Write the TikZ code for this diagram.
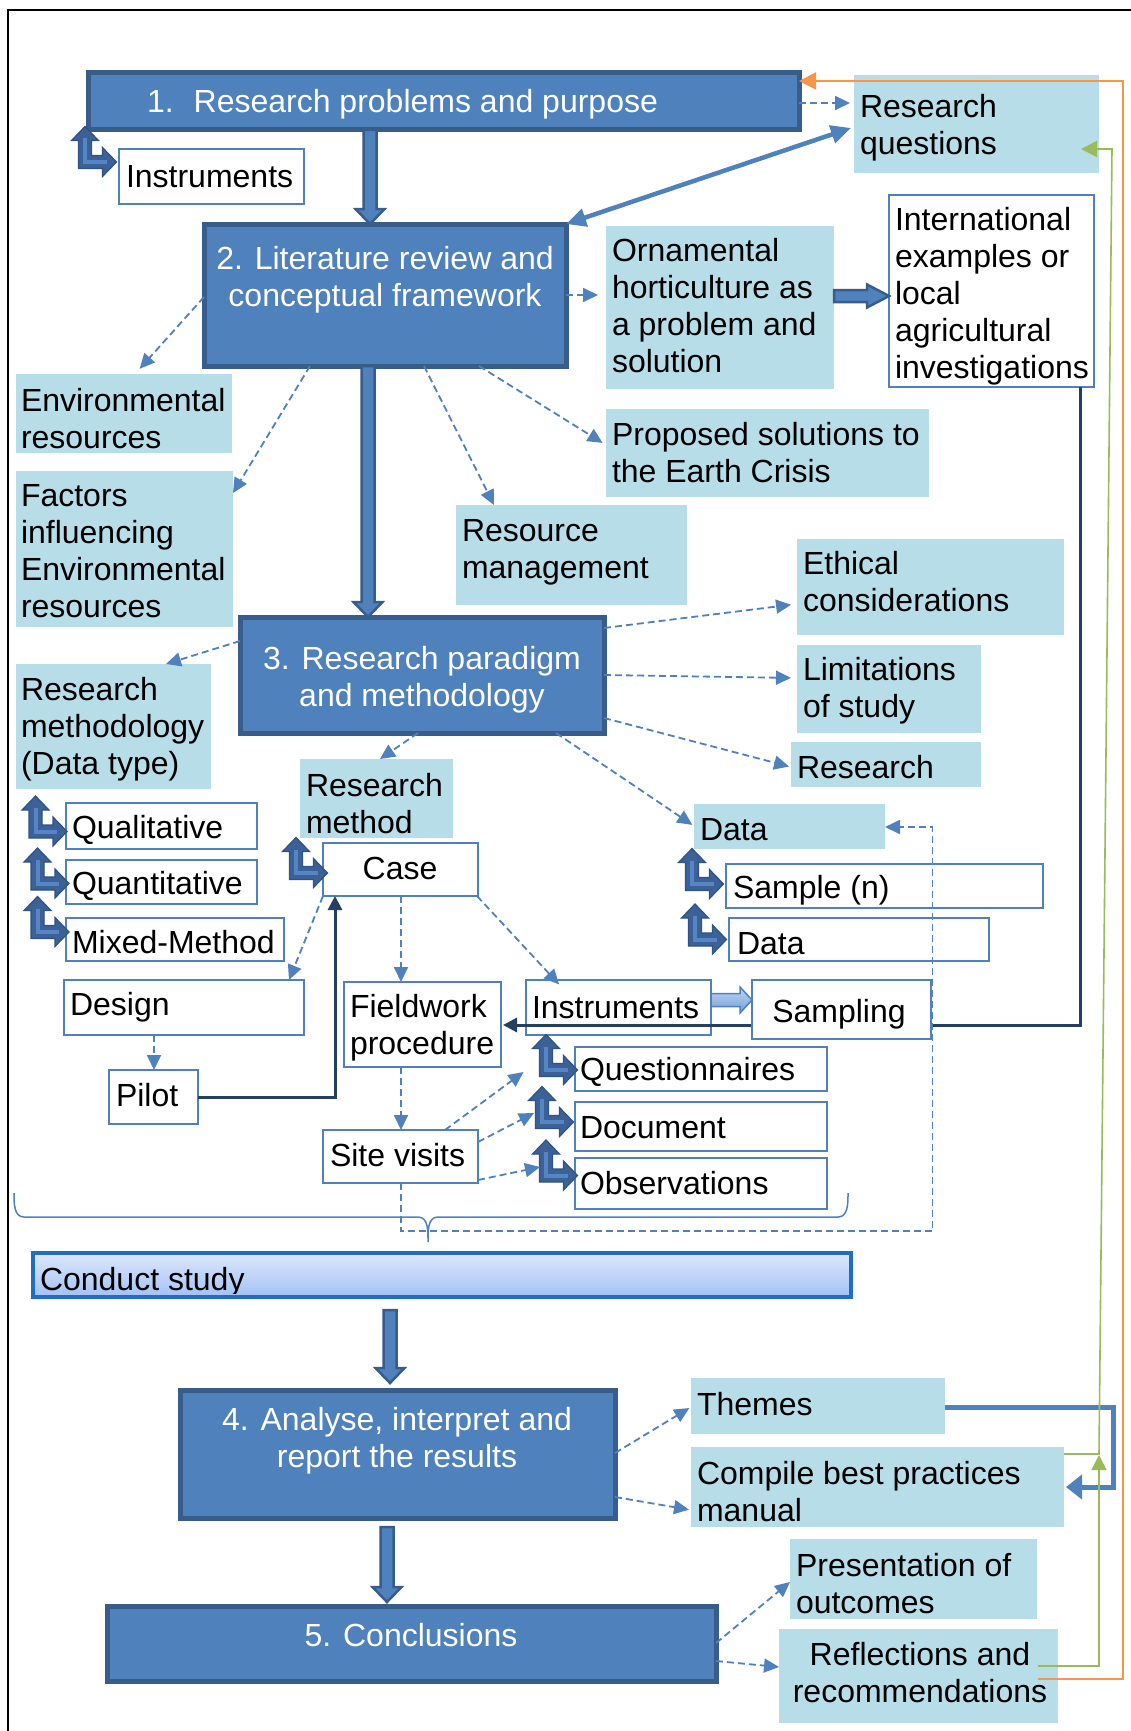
\documentclass[tikz,border=0pt]{standalone}
\usepackage{fontspec}
\setmainfont{Liberation Sans}
\usetikzlibrary{arrows.meta,calc}

\definecolor{dkfill}{HTML}{4F81BD}
\definecolor{dkedge}{HTML}{385D8A}
\definecolor{ltfill}{HTML}{B7DDE8}
\definecolor{lineNavy}{HTML}{243F60}
\definecolor{grn}{HTML}{9BBB59}
\definecolor{org}{HTML}{F79646}
\definecolor{csTop}{HTML}{DDE8FC}
\definecolor{csBot}{HTML}{A3C1F5}
\definecolor{csEdge}{HTML}{1F6EC2}
\definecolor{lbTop}{HTML}{C2D6F2}
\definecolor{lbBot}{HTML}{6F9FD8}
\definecolor{bentDark}{HTML}{3B6197}
\definecolor{bentEdge}{HTML}{2F5384}
\definecolor{bentStripe}{HTML}{5585C4}

\newcommand\bodyfs{\fontsize{32pt}{37pt}\selectfont}
\newcommand\sx{\rule[-5pt]{0pt}{33pt}}

% box from its top-left and bottom-right corners
\newcommand\boxnode[6]{\node[#2, anchor=north west, inner sep=0pt, outer sep=0pt,
  minimum width={#5-#3}, minimum height={#6-#4}] (#1) at (#3,#4) {};}

% thick downward block arrow between two points on one vertical
\newcommand\downblock[2]{\path[blk] let \p1=#1, \p2=#2 in
  (\x1-6.5pt,\y1) -- (\x1+6.5pt,\y1) -- (\x1+6.5pt,\y2+15pt) -- (\x1+14.5pt,\y2+15pt)
  -- (\x1,\y2) -- (\x1-14.5pt,\y2+15pt) -- (\x1-6.5pt,\y2+15pt) -- cycle;}

% rightward block arrow: style, start, end, shaft half-height, head half-height, head length
\newcommand\rightblock[6]{\path[#1] let \p1=#2, \p2=#3 in
  (\x1,\y1+#4pt) -- (\x2-#6pt,\y1+#4pt) -- (\x2-#6pt,\y1+#5pt) -- (\x2,\y1)
  -- (\x2-#6pt,\y1-#5pt) -- (\x2-#6pt,\y1-#4pt) -- (\x1,\y1-#4pt) -- cycle;}

\tikzset{
  dbox/.style={fill=dkfill, draw=dkedge, line width=5pt},
  lbox/.style={fill=ltfill},
  wbox/.style={fill=white, draw=dkfill, line width=2.5pt},
  csbox/.style={top color=csTop, bottom color=csBot, draw=csEdge, line width=4pt},
  txt/.style={inner sep=0pt, outer sep=0pt, font=\bodyfs, align=left, anchor=west},
  wtxt/.style={txt, text=white, align=center, anchor=center},
  dsh/.style={draw=dkfill, line width=1.8pt, dash pattern=on 7pt off 4pt,
    -{Triangle[length=15pt,width=14pt]}},
  blk/.style={fill=dkfill, draw=dkedge, line width=2.5pt, line join=miter},
  lblk/.style={top color=lbTop, bottom color=lbBot, draw=dkfill, line width=1.5pt},
  navyline/.style={draw=lineNavy, line width=3pt, -{Triangle[length=14pt,width=14pt]}},
  bent/.pic={
    \path[fill=bentDark, draw=bentEdge, line width=1.2pt, line join=miter]
      (0,0) -- (24,0) -- (24,8) -- (38,-6.5) -- (24,-21) -- (24,-13) -- (13,-13)
      -- (13,-28) -- (20,-28) -- (6.5,-42) -- (-7,-28) -- (0,-28) -- cycle;
    \draw[bentStripe, line width=4pt] (6.5,-30) -- (6.5,-6.5) -- (28,-6.5);},
}

\begin{document}
\begin{tikzpicture}[x=1pt,y=-1pt]
\useasboundingbox (0,0) rectangle (1131,1731);
\fill[white] (0,0) rectangle (1131,1731);

% page frame
\draw[line width=2.5pt] (1131,10) -- (8,10) -- (8,1731);

% ---------- boxes ----------
\boxnode{b1}{dbox}{88}{73}{799}{130}
\boxnode{ins0}{wbox}{119}{149}{304}{204}
\boxnode{rq}{lbox}{854}{75}{1099}{173}
\boxnode{b2}{dbox}{204}{224}{566}{366}
\boxnode{orn}{lbox}{606}{226}{834}{389}
\boxnode{intl}{wbox}{889}{195}{1094}{387}
\boxnode{env}{lbox}{16}{374}{232}{453}
\boxnode{fac}{lbox}{16}{471}{233}{627}
\boxnode{prop}{lbox}{606}{409}{929}{497}
\boxnode{resm}{lbox}{456}{505}{687}{605}
\boxnode{b3}{dbox}{240}{617}{604}{733}
\boxnode{eth}{lbox}{797}{539}{1064}{635}
\boxnode{lim}{lbox}{797}{645}{981}{733}
\boxnode{res}{lbox}{791}{742}{981}{787}
\boxnode{dl}{lbox}{694}{804}{885}{849}
\boxnode{rmd}{lbox}{16}{664}{211}{789}
\boxnode{rme}{lbox}{300}{759}{453}{838}
\boxnode{ql}{wbox}{66}{803}{257}{849}
\boxnode{qn}{wbox}{66}{860}{257}{904}
\boxnode{mx}{wbox}{66}{918}{284}{961}
\boxnode{case}{wbox}{323}{843}{478}{896}
\boxnode{des}{wbox}{64}{980}{304}{1035}
\boxnode{pil}{wbox}{109}{1070}{198}{1124}
\boxnode{fw}{wbox}{344}{982}{501}{1067}
\boxnode{ins2}{wbox}{526}{980}{711}{1035}
\boxnode{sn}{wbox}{726}{864}{1043}{908}
\boxnode{d2}{wbox}{729}{918}{989}{961}
\boxnode{qs}{wbox}{575}{1047}{827}{1091}
\boxnode{doc}{wbox}{575}{1102}{827}{1151}
\boxnode{obs}{wbox}{575}{1158}{827}{1209}
\boxnode{sv}{wbox}{323}{1130}{478}{1183}
\boxnode{cs}{csbox}{33}{1253}{851}{1297}
\boxnode{b4}{dbox}{180}{1390}{615}{1518}
\boxnode{b5}{dbox}{107}{1606}{716}{1681}
\boxnode{th}{lbox}{691}{1378}{945}{1434}
\boxnode{comp}{lbox}{691}{1447}{1064}{1527}
\boxnode{pres}{lbox}{790}{1539}{1037}{1619}
\boxnode{refl}{lbox}{779}{1629}{1058}{1723}

% link from the international examples back to the fieldwork procedure
\draw[navyline] (intl.south -| 1080,0) |- ([xshift=2pt]fw.east |- 0,1025);
\boxnode{samp}{wbox}{752}{980}{931}{1039}

% ---------- texts ----------
\node[wtxt, anchor=west] (t1) at (147,102) {\sx 1.\hspace{20pt}Research problems and purpose};
\node[txt] (tins0) at (126,176) {\sx Instruments};
\node[txt] (trq) at (860,125) {\sx Research\\\sx questions};
\node[wtxt] (t2) at (385,277.5) {\sx 2. Literature review and\\\sx conceptual framework};
\node[txt] (torn) at (612,305.5) {\sx Ornamental\\\sx horticulture as\\\sx a problem and\\\sx solution};
\node[txt] (tintl) at (895,293.5) {\sx International\\\sx examples or\\\sx local\\\sx agricultural\\\sx investigations};
\node[txt] (tenv) at (21,418.5) {\sx Environmental\\\sx resources};
\node[txt] (tfac) at (21,550.5) {\sx Factors\\\sx influencing\\\sx Environmental\\\sx resources};
\node[txt] (tprop) at (612,452.5) {\sx Proposed solutions to\\\sx the Earth Crisis};
\node[txt] (tresm) at (462,549.5) {\sx Resource\\\sx management};
\node[wtxt] (t3) at (422,677.5) {\sx 3. Research paradigm\\\sx and methodology};
\node[txt] (teth) at (803,581.5) {\sx Ethical\\\sx considerations};
\node[txt] (tlim) at (803,688.5) {\sx Limitations\\\sx of study};
\node[txt] (tres) at (797,767) {\sx Research};
\node[txt] (tdl) at (700,829) {\sx Data};
\node[txt] (trmd) at (21,726.5) {\sx Research\\\sx methodology\\\sx (Data type)};
\node[txt] (trme) at (306,803) {\sx Research\\\sx method};
\node[txt] (tql) at (72,828) {\sx Qualitative};
\node[txt] (tqn) at (72,884) {\sx Quantitative};
\node[txt] (tmx) at (72,942) {\sx Mixed-Method};
\node[txt, anchor=center] (tcase) at (400,868) {\sx Case};
\node[txt] (tdes) at (70,1005) {\sx Design};
\node[txt] (tpil) at (116,1095) {\sx Pilot};
\node[txt] (tfw) at (350,1025) {\sx Fieldwork\\\sx procedure};
\node[txt] (tins2) at (532,1007) {\sx Instruments};
\node[txt, anchor=center] (tsamp) at (839,1012) {\sx Sampling};
\node[txt] (tsn) at (733,888) {\sx Sample (n)};
\node[txt] (td2) at (737,943) {\sx Data};
\node[txt] (tqs) at (580,1070) {\sx Questionnaires};
\node[txt] (tdoc) at (580,1127) {\sx Document};
\node[txt] (tobs) at (580,1183) {\sx Observations};
\node[txt] (tsv) at (330,1155) {\sx Site visits};
\begin{scope}
  \clip (cs.north west) rectangle ([yshift=4pt]cs.south east);
  \node[txt, anchor=base west] (tcs) at (40,1290) {Conduct study};
\end{scope}
\node[wtxt] (t4) at (397,1438.5) {\sx 4. Analyse, interpret and\\\sx report the results};
\node[wtxt] (t5) at (411,1635) {\sx 5. Conclusions};
\node[txt] (tth) at (697,1404) {\sx Themes};
\node[txt] (tcomp) at (697,1491) {\sx Compile best practices\\\sx manual};
\node[txt] (tpres) at (796,1583.5) {\sx Presentation of\\\sx outcomes};
\node[txt, align=center, anchor=center] (trefl) at (920,1672.5) {\sx Reflections and\\\sx recommendations};

% ---------- main block arrows ----------
\downblock{(b1.south -| 370,0)}{(b2.north -| 370,0)}
\downblock{(b2.south -| 368,0)}{(b3.north -| 368,0)}
\downblock{([yshift=-13pt]cs.south -| 390,0)}{([yshift=7pt]b4.north -| 390,0)}
\downblock{([yshift=-9pt]b4.south -| 387,0)}{([yshift=4pt]b5.north -| 387,0)}
\rightblock{blk}{(orn.east |- 0,296)}{(intl.west |- 0,296)}{6}{11.5}{22}
\rightblock{lblk}{(ins2.east |- 0,1000)}{(samp.west |- 0,1000)}{6.5}{13}{12}

% bent double arrows beside the list items
\pic at (78.5,168.5) {bent};
\pic at (29,838) {bent};
\pic at (31,890) {bent};
\pic at (31,938.5) {bent};
\pic at (289.5,879.5) {bent};
\pic at (685.5,890.5) {bent};
\pic at (688.5,946) {bent};
\pic at (539.5,1076.5) {bent};
\pic at (535.5,1128.5) {bent};
\pic at (539.5,1182) {bent};

% ---------- dashed connectors ----------
\draw[dsh, shorten >=4pt] (b1.east |- 0,103) -- (rq.west |- 0,103);
\draw[dsh, shorten >=8pt] (b2.east |- 0,295) -- (orn.west |- 0,295);
\draw[dsh, shorten >=7pt] (b2.west |- 0,297) -- (env.north -| 135,0);
\draw[dsh] (b2.south -| 310,0) -- (fac.east |- 0,493);
\draw[dsh] (b2.south -| 424,0) -- (resm.north -| 494,0);
\draw[dsh, shorten >=4pt] (b2.south -| 479,0) -- (prop.west |- 0,445);
\draw[dsh, shorten >=6pt] (b3.east |- 0,628) -- (eth.west |- 0,604);
\draw[dsh, shorten >=6pt] (b3.east |- 0,675) -- (lim.west |- 0,678);
\draw[dsh, shorten >=2pt] (b3.east |- 0,718) -- (res.west |- 0,767);
\draw[dsh, shorten >=2pt] (b3.south -| 556,0) -- (dl.west |- 0,826);
\draw[dsh] (b3.west |- 0,641) -- (rmd.north -| 166,0);
\draw[dsh] (b3.south -| 418,0) -- (rme.north -| 380,0);
\draw[dsh] (case.south -| 323,0) -- (des.north -| 289,0);
\draw[dsh] (des.south -| 154,0) -- (pil.north -| 154,0);
\draw[dsh] (case.south -| 401,0) -- (fw.north -| 401,0);
\draw[dsh, shorten >=-6pt] (case.south -| 477,0) -- (ins2.north -| 555,0);
\draw[dsh] (fw.south -| 401,0) -- (sv.north -| 401,0);
\coordinate (toQ) at (523.5,1072);
\coordinate (toD) at (534,1113);
\coordinate (toO) at (540,1167);
\draw[dsh] (sv.north -| 445,0) -- (toQ);
\draw[dsh] (sv.east |- 0,1142) -- (toD);
\draw[dsh] (sv.east |- 0,1180) -- (toO);
\draw[dsh] (sv.south -| 401,0) -- (401,1231) -| (932.5,827) -- (dl.east |- 0,827);
\draw[dsh, shorten >=2pt] (b4.east |- 0,1453) -- (th.west |- 0,1407);
\draw[dsh, shorten >=2pt] (b4.east |- 0,1497) -- (comp.west |- 0,1510);
\draw[dsh] (b5.east |- 0,1643) -- (pres.west |- 0,1582);
\draw[dsh] (b5.east |- 0,1661) -- (refl.west |- 0,1667);

% ---------- solid connectors ----------
\draw[dkfill, line width=4.5pt, {Triangle[length=20pt,width=18pt]}-{Triangle[length=20pt,width=18pt]}]
  (b2.north east) -- ([xshift=-3pt]rq.west |- 0,128);
\draw[navyline] (pil.east |- 0,1097) -| (case.south -| 335,0);
\draw[dkfill, line width=5pt, line join=miter, -{Triangle[length=16pt,width=24pt]}]
  (th.east |- 0,1407) -- (1113,1407) -- (1113,1487) -- ([xshift=2pt]comp.east |- 0,1487);
\draw[grn, line width=1.6pt, -{Triangle[length=15pt,width=15pt]}]
  ([xshift=-20pt]refl.east |- 0,1666) -- (1099,1666) -- (1099,1455);
\draw[grn, line width=1.6pt, -{Triangle[length=16pt,width=16pt]}]
  (comp.east |- 0,1454) -- (1099,1454) -- (1112,149) -- ([xshift=-18pt]rq.east |- 0,149);
\draw[org, line width=2pt, -{Triangle[length=17pt,width=17pt]}]
  ([xshift=-20pt]refl.east |- 0,1679) -- (1123,1679) -- (1123,81) -- (b1.east |- 0,81);

% brace under the fieldwork block
\draw[dkfill, line width=1.5pt]
  (14,1193) to[out=-90,in=180] (24,1217) -- (418,1217) to[out=0,in=90] (428,1242)
  to[out=90,in=180] (438,1217) -- (838,1217) to[out=0,in=-90] (848,1193);
\end{tikzpicture}
\end{document}
